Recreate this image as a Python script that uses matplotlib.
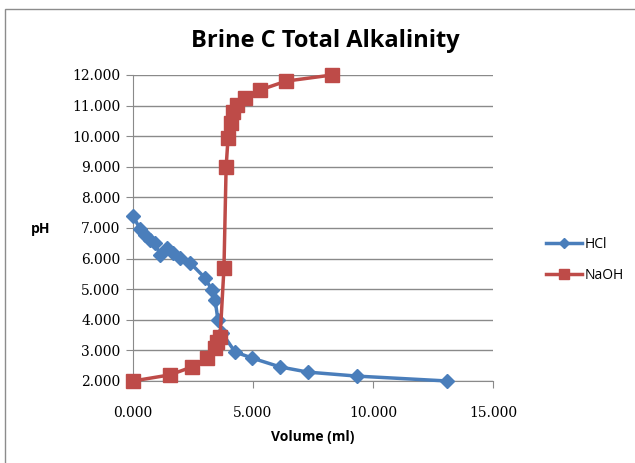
import matplotlib
matplotlib.use("Agg")
import matplotlib.pyplot as plt
from matplotlib.patches import Rectangle

# titration data: volume of titrant (ml) vs pH
hcl_volume = [0.00, 0.29, 0.50, 0.71, 0.92, 1.13, 1.42, 1.67, 1.96, 2.38, 3.00,
              3.29, 3.42, 3.54, 3.71, 4.25, 4.96, 6.13, 7.29, 9.33, 13.10]
hcl_ph = [7.40, 6.97, 6.77, 6.60, 6.51, 6.12, 6.35, 6.18, 6.02, 5.86, 5.37,
          4.97, 4.65, 3.99, 3.57, 2.95, 2.75, 2.46, 2.29, 2.16, 2.00]

naoh_volume = [0.00, 1.54, 2.46, 3.08, 3.42, 3.50, 3.63, 3.79, 3.88, 3.96,
               4.08, 4.17, 4.33, 4.67, 5.29, 6.38, 8.29]
naoh_ph = [2.00, 2.20, 2.46, 2.75, 3.08, 3.27, 3.44, 5.69, 8.99, 9.94,
           10.43, 10.79, 11.02, 11.25, 11.51, 11.80, 12.00]

x_ticks = [0, 5, 10, 15]
y_ticks = [2, 3, 4, 5, 6, 7, 8, 9, 10, 11, 12]

W, H = 635, 463
fig = plt.figure(figsize=(W / 100, H / 100), dpi=100)
fig.patches.append(Rectangle((5 / W, -0.05), 1.1, 1 - 9 / H + 0.05,
                             transform=fig.transFigure, fill=False,
                             edgecolor="#8c8c8c", linewidth=1.0))

ax = fig.add_axes([133 / W, 1 - 381 / H, 360 / W, 306 / H])
ax.plot(hcl_volume, hcl_ph, color="#4a7ebb", linewidth=2.5, marker="D",
        markersize=7, label="HCl", zorder=3)
ax.plot(naoh_volume, naoh_ph, color="#be4b48", linewidth=2.5, marker="s",
        markersize=9.5, label="NaOH", zorder=3)

ax.set_xlim(0, 15)
ax.set_ylim(2, 12)
ax.set_xticks(x_ticks)
ax.set_yticks(y_ticks)
ax.set_xticklabels([f"{v:.3f}" for v in x_ticks], family="DejaVu Serif", fontsize=10)
ax.set_yticklabels([f"{v:.3f}" for v in y_ticks], family="DejaVu Serif", fontsize=10)
ax.grid(axis="y", color="#8a8a8a", linewidth=1.0)
ax.set_axisbelow(True)
for side in ("top", "right"):
    ax.spines[side].set_visible(False)
for side in ("left", "bottom"):
    ax.spines[side].set_color("#8a8a8a")
ax.tick_params(axis="both", length=5, color="#8a8a8a", pad=4)
ax.tick_params(axis="x", pad=13)
for line in ax.lines:
    line.set_clip_on(False)

fig.text(325 / W, 1 - 41 / H, "Brine C Total Alkalinity", ha="center", va="center",
         fontsize=17, fontweight="bold", family="Open Sans")
fig.text(313 / W, 1 - 437 / H, "Volume (ml)", ha="center", va="center",
         fontsize=10, fontweight="bold", family="Open Sans")
fig.text(41 / W, 1 - 229 / H, "pH", ha="center", va="center",
         fontsize=10, fontweight="bold", family="Open Sans")

leg = fig.legend(loc="center left", bbox_to_anchor=(533 / W, 1 - 260 / H),
                 frameon=False, prop={"family": "Open Sans", "size": 10},
                 handlelength=2.6, labelspacing=1.2, handletextpad=0.2,
                 markerscale=0.8)

fig.savefig("out.png", dpi=100)
